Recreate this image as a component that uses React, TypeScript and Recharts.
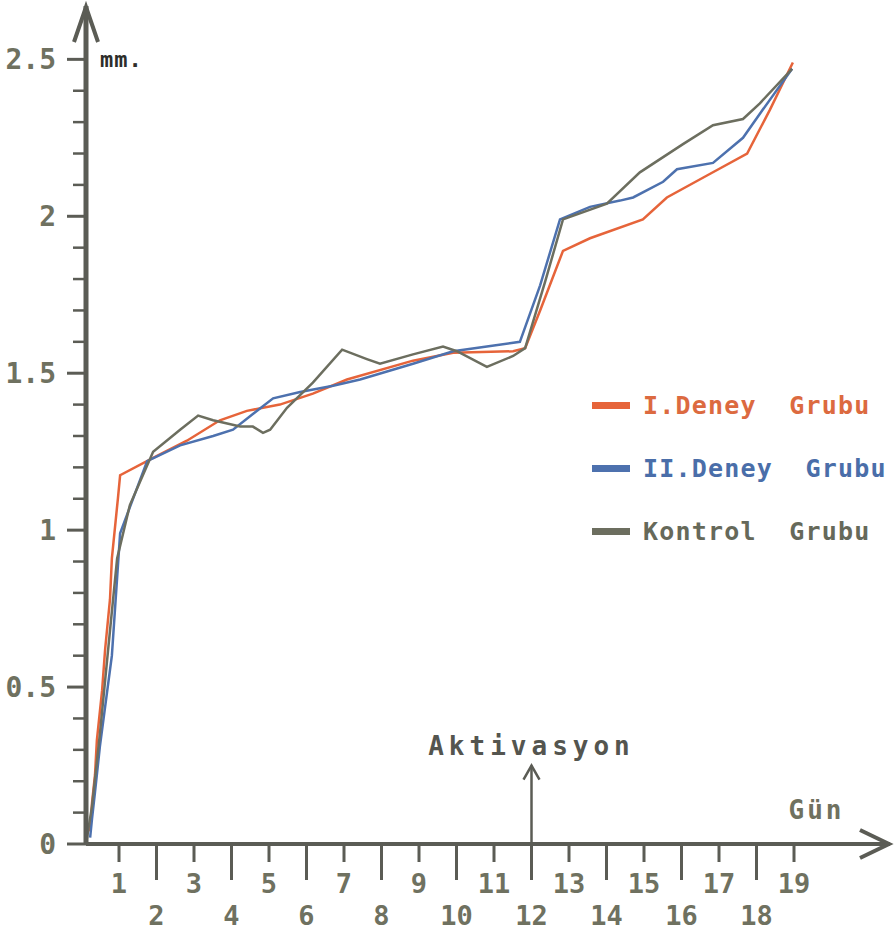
import React from 'react';
import { LineChart, Line, XAxis, YAxis, ReferenceLine, ReferenceDot } from 'recharts';

// gün (x) / mm (y) değerleri
const deney1Gun = [0.23, 0.28, 0.36, 0.41, 0.55, 0.63, 0.76, 0.81, 0.97, 1.03, 1.91, 2.81, 3.69, 4.41, 5.29, 6.17, 7.08, 8.84, 9.91, 11.51, 11.83, 12.23, 12.84, 13.56, 14.97, 15.61, 16.68, 17.75, 18.36, 18.97];
const deney1Mm = [0.04, 0.13, 0.22, 0.33, 0.49, 0.62, 0.78, 0.91, 1.1, 1.175, 1.23, 1.285, 1.35, 1.38, 1.4, 1.435, 1.48, 1.54, 1.565, 1.57, 1.58, 1.7, 1.89, 1.93, 1.99, 2.06, 2.13, 2.2, 2.34, 2.49];

const deney2Gun = [0.23, 0.28, 0.36, 0.49, 0.81, 1.03, 1.75, 2.63, 3.51, 4.04, 4.57, 5.11, 5.83, 6.71, 7.43, 8.84, 9.91, 10.81, 11.69, 12.23, 12.76, 13.56, 14.36, 14.71, 15.51, 15.88, 16.84, 17.64, 18.17, 18.95];
const deney2Mm = [0.02, 0.08, 0.165, 0.31, 0.6, 0.99, 1.22, 1.27, 1.3, 1.32, 1.37, 1.42, 1.44, 1.46, 1.48, 1.53, 1.57, 1.585, 1.6, 1.78, 1.99, 2.03, 2.05, 2.06, 2.11, 2.15, 2.17, 2.25, 2.34, 2.47];

const kontrolGun = [0.12, 0.28, 0.49, 0.76, 0.95, 1.29, 1.91, 2.63, 3.11, 3.51, 4.23, 4.57, 4.84, 5.03, 5.48, 6.17, 6.95, 7.61, 7.96, 8.84, 9.64, 10.01, 10.81, 11.51, 11.83, 12.36, 12.84, 14.01, 14.89, 16.04, 16.84, 17.64, 18.09, 18.95];
const kontrolMm = [0.0, 0.12, 0.35, 0.68, 0.91, 1.08, 1.25, 1.32, 1.365, 1.35, 1.33, 1.33, 1.31, 1.32, 1.39, 1.47, 1.575, 1.545, 1.53, 1.56, 1.585, 1.57, 1.52, 1.555, 1.58, 1.79, 1.99, 2.04, 2.14, 2.23, 2.29, 2.31, 2.36, 2.47];

const xTicks = [1, 2, 3, 4, 5, 6, 7, 8, 9, 10, 11, 12, 13, 14, 15, 16, 17, 18, 19];
const yTicks = [0, 0.1, 0.2, 0.3, 0.4, 0.5, 0.6, 0.7, 0.8, 0.9, 1, 1.1, 1.2, 1.3, 1.4, 1.5, 1.6, 1.7, 1.8, 1.9, 2, 2.1, 2.2, 2.3, 2.4, 2.5];
const yLabels: Record<string, string> = { '0': '0', '0.5': '0.5', '1': '1', '1.5': '1.5', '2': '2', '2.5': '2.5' };

const aktivasyonGunu = 12;

const series = [
  { name: 'I.Deney  Grubu', color: '#e6643a', text: '#dc6a40', gun: deney1Gun, mm: deney1Mm },
  { name: 'II.Deney  Grubu', color: '#4d71ae', text: '#4a6ea9', gun: deney2Gun, mm: deney2Mm },
  { name: 'Kontrol  Grubu', color: '#6c6e5f', text: '#66695a', gun: kontrolGun, mm: kontrolMm },
];

const FONT = '"DejaVu Sans Mono", monospace';
const AXIS = '#5b5c55';
const LABEL = '#6f7160';

const toRows = (gun: number[], mm: number[]) => gun.map((g, i) => ({ gun: g, mm: mm[i] }));

const GunTick = (props: any) => {
  const { x, y, payload } = props;
  const odd = payload.value % 2 === 1;
  return (
    <g>
      <line x1={x} y1={y} x2={x} y2={y + (odd ? 18 : 36)} stroke={AXIS} strokeWidth={3} />
      <text x={x} y={y + (odd ? 49 : 81)} textAnchor="middle" fill={LABEL}
        style={{ fontFamily: FONT, fontWeight: 'bold', fontSize: 27 }}>
        {payload.value}
      </text>
    </g>
  );
};

const MmTick = (props: any) => {
  const { x, y, payload } = props;
  const key = String(Math.round(payload.value * 10) / 10);
  const label = yLabels[key];
  return (
    <g>
      <line x1={x - (label ? 19 : 13)} y1={y} x2={x} y2={y} stroke={AXIS} strokeWidth={label ? 3 : 2.5} />
      {label && (
        <text x={x - 30} y={y + 10} textAnchor="end" fill={LABEL}
          style={{ fontFamily: FONT, fontWeight: 'bold', fontSize: 28 }}>
          {label}
        </text>
      )}
    </g>
  );
};

const App: React.FC = () => {
  return (
    <div style={{ position: 'absolute', left: 0, top: 0, width: 896, height: 935, background: '#fff' }}>
      <LineChart width={896} height={935} margin={{ top: 6, right: 6, bottom: 0, left: 0 }}>
        <XAxis type="number" dataKey="gun" domain={[0.12, 21.56]} ticks={xTicks} interval={0}
          allowDataOverflow height={91} tickSize={0} tickMargin={0} tickLine={false}
          axisLine={{ stroke: AXIS, strokeWidth: 4 }} tick={<GunTick />} />
        <YAxis type="number" domain={[0, 2.67]} ticks={yTicks} interval={0}
          allowDataOverflow width={86} tickSize={0} tickMargin={0} tickLine={false}
          axisLine={{ stroke: AXIS, strokeWidth: 5 }} tick={<MmTick />} />

        {series.map(s => (
          <Line key={s.name} data={toRows(s.gun, s.mm)} dataKey="mm" type="linear"
            stroke={s.color} strokeWidth={2.5} dot={false} isAnimationActive={false} />
        ))}

        {/* eksen okları */}
        <ReferenceDot x={0.12} y={2.67} r={0} ifOverflow="visible"
          shape={(p: any) => (
            <path d={`M${p.cx - 12},${p.cy + 36} L${p.cx},${p.cy + 1} L${p.cx + 12},${p.cy + 36}`}
              fill="none" stroke={AXIS} strokeWidth={4} />
          )} />
        <ReferenceDot x={21.56} y={0} r={0} ifOverflow="visible"
          shape={(p: any) => (
            <path d={`M${p.cx - 30},${p.cy - 14} L${p.cx - 1},${p.cy} L${p.cx - 30},${p.cy + 14}`}
              fill="none" stroke={AXIS} strokeWidth={4} />
          )} />

        {/* birim ve eksen adları */}
        <ReferenceDot x={0.12} y={2.5} r={0} ifOverflow="visible"
          shape={(p: any) => (
            <text x={p.cx + 14} y={p.cy + 8} fill="#2e2e2b"
              style={{ fontFamily: FONT, fontWeight: 'bold', fontSize: 22, letterSpacing: 1 }}>mm.</text>
          )} />
        <ReferenceDot x={19.6} y={0} r={0} ifOverflow="visible"
          shape={(p: any) => (
            <text x={p.cx} y={p.cy - 25} textAnchor="middle" fill={LABEL}
              style={{ fontFamily: FONT, fontWeight: 'bold', fontSize: 26, letterSpacing: 3 }}>Gün</text>
          )} />

        {/* aktivasyon işareti */}
        <ReferenceLine segment={[{ x: aktivasyonGunu, y: 0 }, { x: aktivasyonGunu, y: 0.25 }]}
          stroke={AXIS} strokeWidth={2.5} ifOverflow="visible" />
        <ReferenceDot x={aktivasyonGunu} y={0.25} r={0} ifOverflow="visible"
          shape={(p: any) => (
            <g>
              <path d={`M${p.cx - 8},${p.cy + 14} L${p.cx},${p.cy} L${p.cx + 8},${p.cy + 14}`}
                fill="none" stroke={AXIS} strokeWidth={2.5} />
              <text x={p.cx} y={p.cy - 11} textAnchor="middle" fill="#54554f"
                style={{ fontFamily: FONT, fontWeight: 'bold', fontSize: 26, letterSpacing: 5 }}>Aktivasyon</text>
            </g>
          )} />
      </LineChart>

      {/* lejant */}
      {series.map((s, i) => (
        <div key={s.name} style={{ position: 'absolute', left: 592, top: 390 + i * 63, height: 30, display: 'flex', alignItems: 'center' }}>
          <div style={{ width: 38, height: 7, background: s.color, marginRight: 13 }} />
          <span style={{ fontFamily: FONT, fontWeight: 'bold', fontSize: 25, letterSpacing: 1.2, color: s.text, whiteSpace: 'pre' }}>
            {s.name}
          </span>
        </div>
      ))}
    </div>
  );
};

export default App;
